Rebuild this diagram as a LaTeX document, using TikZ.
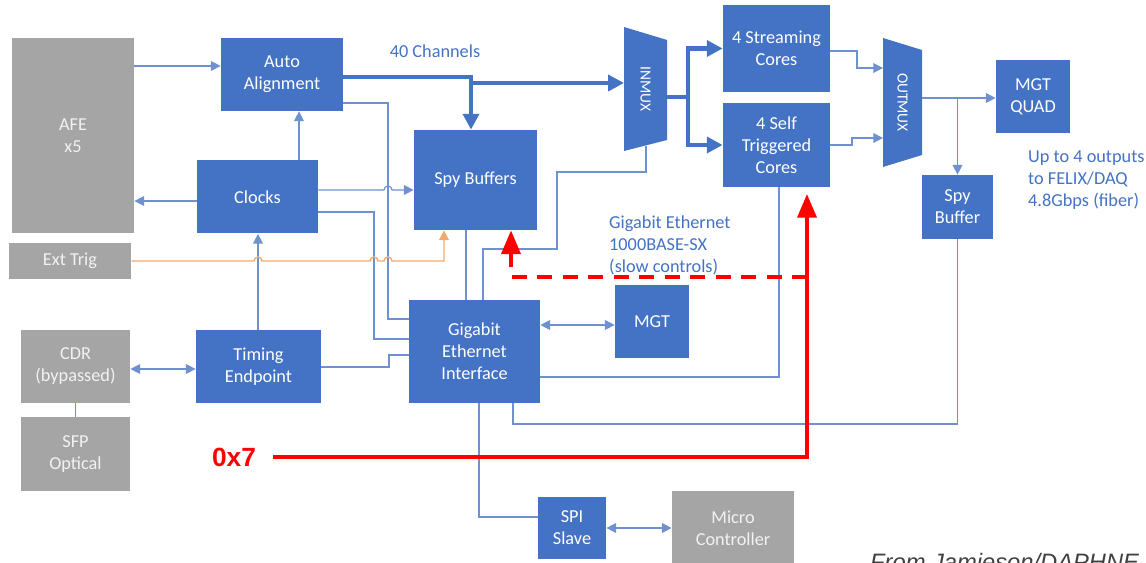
\documentclass[tikz,border=0pt]{standalone}
\usepackage{fontspec}
\setmainfont{Carlito}
\newfontfamily\arialfont{Liberation Sans}
\usetikzlibrary{arrows.meta}
\definecolor{boxblue}{HTML}{4472C4}
\definecolor{lineblue}{HTML}{6F91D0}
\definecolor{boxgray}{HTML}{A5A5A5}
\definecolor{graytext}{HTML}{F2F2F2}
\definecolor{trigorange}{HTML}{F2A970}
\definecolor{credgray}{HTML}{404040}
\begin{document}
\begin{tikzpicture}[x=0.02cm, y=-0.02cm,
  font=\fontsize{10.4}{12.5}\selectfont,
  >={Triangle[length=5.5pt, width=5.5pt]},
  blk/.style 2 args={fill=boxblue, text=white, align=center, inner sep=0pt,
    minimum width=#1*0.02cm, minimum height=#2*0.02cm},
  gblk/.style 2 args={blk={#1}{#2}, fill=boxgray, text=graytext},
  muxlbl/.style={text=white, rotate=-90, font=\fontsize{8.8}{10}\selectfont},
  wire/.style={draw=lineblue, line width=0.7pt},
  bus/.style={draw=boxblue, line width=2.3pt, -{Triangle[length=9pt, width=9pt]}},
  trigline/.style={draw=trigorange, line width=0.8pt},
  note/.style={text=boxblue, align=left},
  hot/.style={draw=red, line width=2.2pt, -{Triangle[length=13.5pt, width=10.8pt]}},
]
  \useasboundingbox (0,0) rectangle (1146,563);

  \node[gblk={122}{195}] (afe)  at (73,135.5)   {AFE\\x5};
  \node[gblk={122}{36}]  (trig) at (70,261)     {Ext Trig};
  \node[gblk={109}{73}]  (cdr)  at (75.5,366.5) {CDR\\(bypassed)};
  \node[gblk={109}{74}]  (sfp)  at (75.5,454)   {SFP\\Optical};
  \node[gblk={122}{74}]  (mcu)  at (733,528)    {Micro\\Controller};
  \node[blk={122}{73}]   (aa)   at (282,74.5)   {Auto\\Alignment};
  \node[blk={121}{73}]   (clk)  at (257.5,197)  {Clocks};
  \node[blk={123}{100}]  (spy)  at (475.5,180)  {Spy Buffers};
  \node[blk={125}{73}]   (tep)  at (258.5,366.5) {Timing\\Endpoint};
  \node[blk={131}{103}]  (gbe)  at (474.5,351.5) {Gigabit\\Ethernet\\Interface};
  \node[blk={74}{73}]    (mgt)  at (652,321.5)  {MGT};
  \node[blk={68}{62}]    (spi)  at (572,528)    {SPI\\Slave};
  \node[blk={107}{87}]   (stc)  at (776.5,48.5) {4 Streaming\\Cores};
  \node[blk={107}{84}]   (stt)  at (776.5,145)  {4 Self\\Triggered\\Cores};
  \node[blk={74}{73}]    (quad) at (1033,96.5)  {MGT\\QUAD};
  \node[blk={71}{64}]    (spyb) at (957.5,207)  {Spy\\Buffer};

  \fill[boxblue] (624,27) -- (667,40) -- (667,140) -- (624,151) -- cycle;
  \node[muxlbl] (inmux) at (645.5,89) {INMUX};
  \fill[boxblue] (883,38) -- (922,50) -- (922,155) -- (883,167) -- cycle;
  \node[muxlbl] (outmux) at (902.5,102.5) {OUTMUX};
  \coordinate (inmuxin)   at (624,83);
  \coordinate (inmuxout)  at (667,97);
  \coordinate (inmuxbot)  at (646,146);
  \coordinate (outmuxa)   at (883,68);
  \coordinate (outmuxb)   at (883,138);
  \coordinate (outmuxout) at (922,98);

  \draw[wire,->] (afe.east |- 0,66) -- (aa.west |- 0,66);
  \draw[wire,->] (clk.west |- 0,201) -- (afe.east |- 0,201);
  \draw[wire,->] (clk.north -| 299,0) -- (aa.south -| 299,0);
  \draw[wire,->] (tep.north -| 258,0) -- (clk.south -| 258,0);
  \draw[wire,->] (clk.east |- 0,190) -- (384,190)
    arc[start angle=180, end angle=0, radius=0.08cm] -- (spy.west |- 0,190);
  \draw[wire] (clk.east |- 0,212) -- (374,212) -- (374,339) -- (gbe.west |- 0,339);
  \draw[wire] (aa.east |- 0,103) -- (388,103) -- (388,319) -- (gbe.west |- 0,319);
  \draw[wire] (tep.east |- 0,367) -- (389,367) -- (389,355) -- (gbe.west |- 0,355);
  \draw[wire,<->] (cdr.east |- 0,369) -- (tep.west |- 0,369);
  \draw[wire] (cdr.south) -- (sfp.north);
  \draw[wire] (spy.south -| 466,0) -- (gbe.north -| 466,0);
  \draw[wire] (gbe.north -| 483,0) -- (483,249) -- (557,249) -- (557,172)
    -- (646,172) -- (inmuxbot);
  \draw[wire,<->] (gbe.east |- 0,325) -- (mgt.west |- 0,325);
  \draw[wire] (stt.south -| 779,0) -- (779,377) -- (gbe.east |- 0,377);
  \draw[wire] (spyb.south) -- (spyb.south |- 0,424) -- (513,424) -- (gbe.south -| 513,0);
  \draw[wire] (gbe.south -| 479,0) -- (479,517) -- (spi.west |- 0,517);
  \draw[wire,<->] (spi.east |- 0,528) -- (mcu.west |- 0,528);
  \draw[wire,->] (stc.east |- 0,51) -- (857,51) -- (857,68) -- (outmuxa);
  \draw[wire,->] (stt.east) -- (852,145) -- (852,138) -- (outmuxb);
  \draw[wire,->] (outmuxout) -- (quad.west |- outmuxout);
  \draw[wire,->] (spyb.north |- outmuxout) -- (spyb.north);

  \draw[trigline,->] (trig.east) -- (254,261)
    arc[start angle=180, end angle=0, radius=0.08cm] -- (370,261)
    arc[start angle=180, end angle=0, radius=0.08cm] -- (384,261)
    arc[start angle=180, end angle=0, radius=0.08cm] -- (444,261)
    -- (spy.south -| 444,0);

  \draw[bus] (aa.east |- 0,77) -- (471,77) -- (spy.north -| 471,0);
  \draw[bus] (471,83) -- (inmuxin);
  \draw[bus] (inmuxout) -- (688,97) |- (stc.west);
  \draw[bus] (688,97) |- (stt.west);

  \node[note] (chan) at (435,51) {40 Channels};
  \node[note, anchor=west] (slow) at (603,245)
    {Gigabit Ethernet\\1000BASE-SX\\(slow controls)};
  \node[note, anchor=west] (felix) at (1022,180)
    {Up to 4 outputs\\to FELIX/DAQ\\4.8Gbps (fiber)};

  \node[text=red, font=\arialfont\bfseries\fontsize{15}{18}\selectfont] (hex) at (234,457) {0x7};
  \coordinate (hotjoin) at (807,277);
  \coordinate (hottip)  at (807,194);
  \draw[hot] ([xshift=0.22cm]hex.east) -- (807,457) -- (hottip);
  \draw[hot, dash pattern=on 8.5pt off 6pt] (hotjoin) -- (511,277) -- (spy.south -| 511,0);

  \node[anchor=base west, text=credgray,
    font=\arialfont\itshape\fontsize{13.5}{16}\selectfont] (src) at (864,570)
    {From Jamieson/DAPHNE};
\end{tikzpicture}
\end{document}
